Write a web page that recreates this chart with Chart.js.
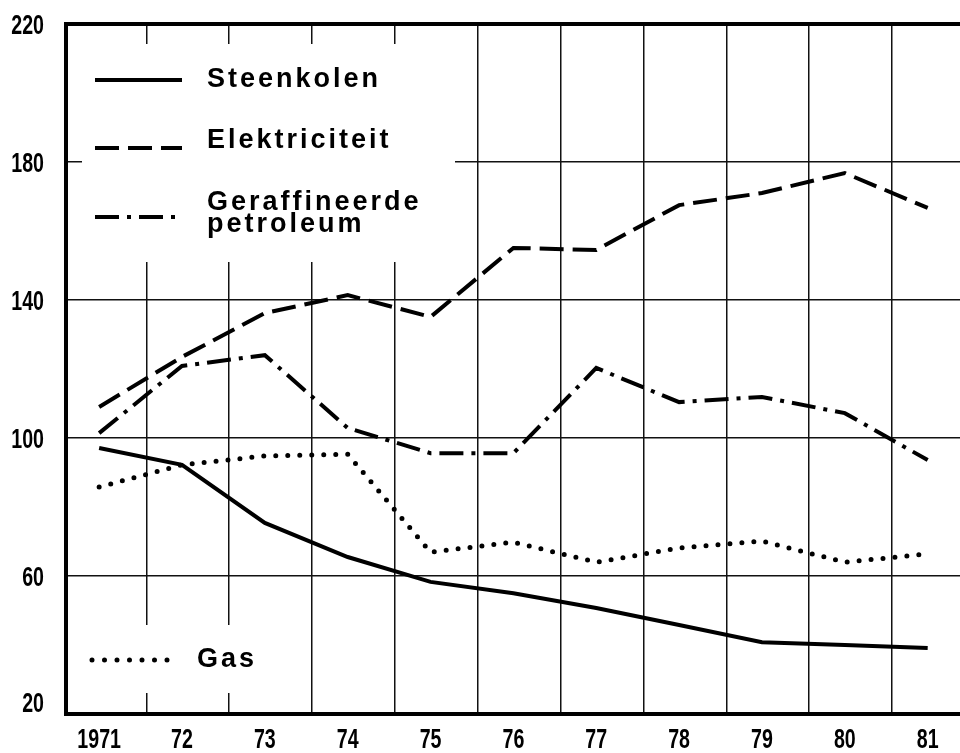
<!DOCTYPE html>
<html>
<head>
<meta charset="utf-8">
<script src="https://cdn.jsdelivr.net/npm/chart.js@4.4.1/dist/chart.umd.min.js"></script>
<style>
  html, body { margin: 0; padding: 0; background: #fff; }
  canvas { display: block; }
</style>
</head>
<body>
<canvas id="chart" width="960" height="753"></canvas>
<script>
/* DATA */
const years = [1971, 1972, 1973, 1974, 1975, 1976, 1977, 1978, 1979, 1980, 1981];
const yearLabels = ['1971', '72', '73', '74', '75', '76', '77', '78', '79', '80', '81'];
const yTicks = [20, 60, 100, 140, 180, 220];

const steenkolen    = [97.1, 92.2, 75.4, 65.5, 58.3, 55.0, 50.7, 45.8, 40.8, 40.0, 39.1];
const elektriciteit = [109.0, 123.5, 136.2, 141.4, 135.1, 155.1, 154.5, 167.5, 171.0, 176.8, 166.7];
const petroleum     = [101.4, 120.9, 124.0, 102.9, 95.6, 95.6, 120.3, 110.4, 111.9, 107.2, 93.6];
const gas           = [85.8, 92.2, 94.8, 95.3, 66.9, 69.8, 64.0, 68.1, 70.1, 64.0, 66.4];

/* vertical grid lines sit between the years */
const gridYears = years.slice(0, -1).map(y => y + 0.57);

const X_MIN = 1970.6, X_MAX = 1981.39;
const pts = (arr) => arr.map((v, i) => ({ x: years[i], y: v }));

/* legend drawn in place, over a cleared patch of the grid */
const inlineLegend = {
  id: 'inlineLegend',
  beforeDatasetsDraw(chart){
    const ctx = chart.ctx;
    ctx.save();
    ctx.fillStyle = '#fff';
    ctx.fillRect(82, 44, 373, 218);
    ctx.fillRect(80, 625, 210, 68);

    ctx.strokeStyle = '#000';
    ctx.lineWidth = 4;
    const sample = (x1, x2, y, dash, cap) => {
      ctx.setLineDash(dash);
      ctx.lineCap = cap;
      ctx.beginPath(); ctx.moveTo(x1, y); ctx.lineTo(x2, y); ctx.stroke();
    };
    sample(95, 182, 80, [], 'butt');
    sample(95, 182, 148, [24, 9], 'butt');
    sample(95, 178, 217, [24, 8, 4, 8], 'butt');
    ctx.lineWidth = 5;
    sample(92, 174, 660, [0, 12.5], 'round');

    ctx.setLineDash([]);
    ctx.fillStyle = '#000';
    ctx.font = 'bold 27px "Liberation Sans", Arial, sans-serif';
    ctx.letterSpacing = '3px';
    ctx.textBaseline = 'alphabetic';
    ctx.fillText('Steenkolen', 207, 87);
    ctx.fillText('Elektriciteit', 207, 148);
    ctx.fillText('Geraffineerde', 207, 210);
    ctx.fillText('petroleum', 207, 232);
    ctx.fillText('Gas', 197, 667);
    ctx.restore();
  }
};

/* tick labels in a narrow face, placed from the scales */
const narrowTicks = {
  id: 'narrowTicks',
  afterDraw(chart){
    const ctx = chart.ctx, sx = 0.7;
    const put = (txt, x, y, align) => {
      ctx.save();
      ctx.translate(x, y); ctx.scale(sx, 1);
      ctx.textAlign = align;
      ctx.fillText(txt, 0, 0);
      ctx.restore();
    };
    ctx.save();
    ctx.fillStyle = '#000';
    ctx.font = 'bold 28px "Liberation Sans", Arial, sans-serif';
    ctx.textBaseline = 'middle';
    const ys = chart.scales.y, xs = chart.scales.x;
    ys.ticks.forEach(t => {
      const py = Math.min(ys.getPixelForValue(t.value) + 2, chart.chartArea.bottom - 10);
      put(String(t.value), 44, py, 'right');
    });
    xs.ticks.forEach(t => {
      put(yearLabels[years.indexOf(t.value)] ?? '', xs.getPixelForValue(t.value), 740, 'center');
    });
    ctx.restore();
  }
};

const line = (label, data, dash, width, cap) => ({
  label, data: pts(data),
  borderColor: '#000', borderWidth: width,
  borderDash: dash, borderCapStyle: cap,
  pointRadius: 0, tension: 0, fill: false
});

new Chart(document.getElementById('chart'), {
  type: 'line',
  data: {
    datasets: [
      line('Steenkolen', steenkolen, [], 4, 'butt'),
      line('Elektriciteit', elektriciteit, [24, 9], 4, 'butt'),
      line('Geraffineerde petroleum', petroleum, [24, 8, 4, 8], 4, 'butt'),
      line('Gas', gas, [0, 12], 5, 'round')
    ]
  },
  options: {
    responsive: false,
    animation: false,
    layout: { padding: { top: 24, right: 0, left: 0, bottom: 0 } },
    plugins: { legend: { display: false }, tooltip: { enabled: false } },
    scales: {
      x: {
        type: 'linear', position: 'bottom', min: X_MIN, max: X_MAX,
        grid: { display: false },
        border: { display: true, width: 4, color: '#000' },
        afterBuildTicks: (a) => { a.ticks = years.map(v => ({ value: v })); },
        afterFit: (a) => { a.height = 39; },
        ticks: { display: false }
      },
      x2: {
        type: 'linear', position: 'top', min: X_MIN, max: X_MAX,
        grid: { color: '#111', lineWidth: 1.5, drawTicks: false },
        border: { display: true, width: 4, color: '#000' },
        afterBuildTicks: (a) => { a.ticks = gridYears.map(v => ({ value: v })); },
        afterFit: (a) => { a.height = 0; },
        ticks: { display: false }
      },
      y: {
        min: 20, max: 220,
        grid: { color: '#111', lineWidth: 1.5, drawTicks: false },
        border: { display: true, width: 4, color: '#000' },
        afterBuildTicks: (a) => { a.ticks = yTicks.map(v => ({ value: v })); },
        afterFit: (a) => { a.width = 66; },
        ticks: { display: false }
      }
    }
  },
  plugins: [inlineLegend, narrowTicks]
});
</script>
</body>
</html>
